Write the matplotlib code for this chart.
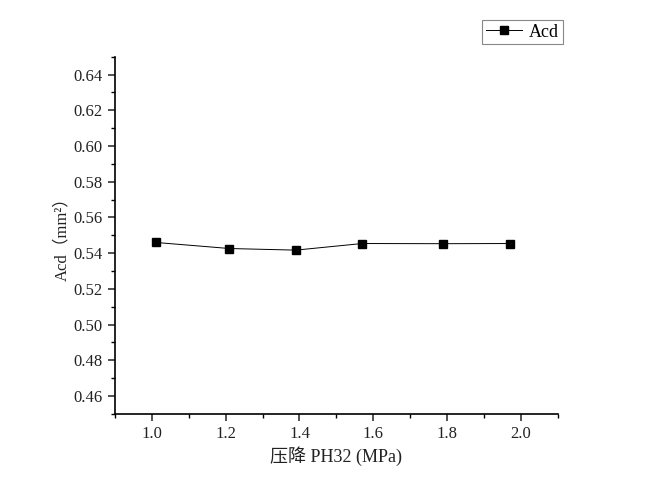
import numpy as np
import matplotlib.pyplot as plt
from matplotlib.ticker import MultipleLocator, FormatStrFormatter

plt.rcParams['font.family'] = ['Liberation Serif', 'Noto Sans CJK SC', 'DejaVu Sans']

# 数据
pressure_drop = [1.01, 1.21, 1.39, 1.57, 1.79, 1.97]
acd = [0.546, 0.5426, 0.5417, 0.5454, 0.5453, 0.5454]

fig = plt.figure(figsize=(6.5, 4.98), dpi=100)
ax = fig.add_axes([0.177, 0.169, 0.681, 0.717])

ax.plot(pressure_drop, acd, color='black', linewidth=0.7, marker='s',
        markersize=6, markerfacecolor='black', label='Acd')

ax.set_xlim(0.9, 2.1)
ax.set_ylim(0.45, 0.65)
ax.xaxis.set_major_locator(MultipleLocator(0.2))
ax.xaxis.set_minor_locator(MultipleLocator(0.1))
ax.yaxis.set_major_locator(MultipleLocator(0.02))
ax.yaxis.set_minor_locator(MultipleLocator(0.01))
ax.xaxis.set_major_formatter(FormatStrFormatter('%.1f'))
ax.yaxis.set_major_formatter(FormatStrFormatter('%.2f'))

for s in ['top', 'right']:
    ax.spines[s].set_visible(False)
for s in ['left', 'bottom']:
    ax.spines[s].set_linewidth(1.2)
ax.tick_params(which='major', direction='out', length=5, width=1.1, labelsize=12,
               colors='#222222', pad=4)
ax.tick_params(which='minor', direction='out', length=3, width=1.0)

ax.set_xlabel('压降 PH32 (MPa)', fontsize=13, color='#222222', labelpad=3)
ax.set_ylabel('Acd（mm²）', fontsize=12, color='#222222', labelpad=2)

leg = fig.legend(loc='upper right', bbox_to_anchor=(0.866, 0.96), borderaxespad=0,
                 fontsize=13, handlelength=2.0, handletextpad=0.4, borderpad=0.2,
                 fancybox=False, edgecolor='#888888', framealpha=1)
leg.get_frame().set_linewidth(0.8)

fig.savefig('out.png', dpi=100)
